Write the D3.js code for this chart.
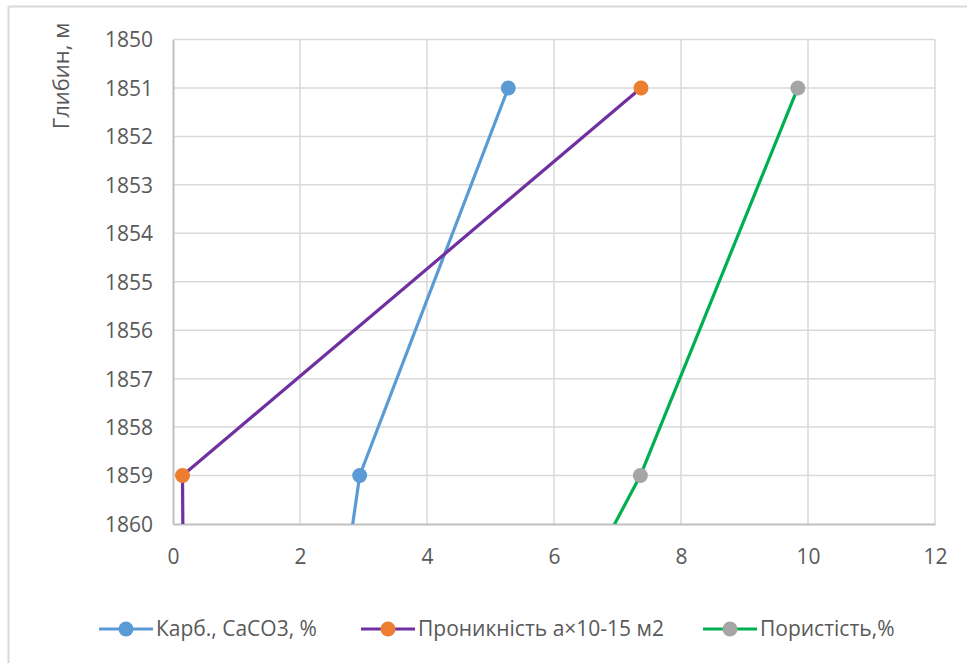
<!DOCTYPE html>
<html>
<head>
<meta charset="utf-8">
<script src="https://cdn.jsdelivr.net/npm/d3@7"></script>
<style>
  html, body { margin: 0; padding: 0; background: #fff; }
  svg { display: block; font-family: "Open Sans", "Noto Sans", sans-serif; }
</style>
</head>
<body>
<svg id="chart" width="967" height="663"></svg>
<script>
// Depths (m) of the measured points; the last one lies below the visible range
const depths = [1851, 1859, 1861];
// Series values
const carbonate = [5.28, 2.94, 2.72];      // Карб., CaCO3, %
const permeability = [7.37, 0.15, 0.16];   // Проникність a×10-15 м2
const porosity = [9.84, 7.36, 6.55];       // Пористість,%

const seriesNames = ["Карб., CaCO3, %", "Проникність а×10-15 м2", "Пористість,%"];
const lineColors = ["#5b9bd5", "#7030a0", "#00b050"];
const markerColors = ["#5b9bd5", "#ed7d31", "#a5a5a5"];

const xTicks = [0, 2, 4, 6, 8, 10, 12];
const yTicks = [1850, 1851, 1852, 1853, 1854, 1855, 1856, 1857, 1858, 1859, 1860];
const yTitle = "Глибин, м";

const svg = d3.select("#chart");
const W = 967, H = 663;
const plot = { left: 173, top: 39.5, right: 935, bottom: 524 };
const FS = "21px";

// outer chart frame (only top & left visible in the crop)
svg.append("line").attr("x1", 8.5).attr("x2", W).attr("y1", 6.5).attr("y2", 6.5)
  .attr("stroke", "#d9d9d9").attr("stroke-width", 2);
svg.append("line").attr("x1", 8.5).attr("x2", 8.5).attr("y1", 6.5).attr("y2", H)
  .attr("stroke", "#d9d9d9").attr("stroke-width", 2);

const x = d3.scaleLinear().domain([0, 12]).range([plot.left, plot.right]);
const y = d3.scaleLinear().domain([1850, 1860]).range([plot.top, plot.bottom]);

// gridlines
const grid = svg.append("g");
grid.selectAll("line.v").data(xTicks.filter(d => d > 0)).join("line")
  .attr("x1", d => x(d)).attr("x2", d => x(d))
  .attr("y1", plot.top).attr("y2", plot.bottom)
  .attr("stroke", "#d9d9d9").attr("stroke-width", 1.5);
grid.selectAll("line.h").data(yTicks.filter(d => d < 1860)).join("line")
  .attr("x1", plot.left).attr("x2", plot.right)
  .attr("y1", d => y(d)).attr("y2", d => y(d))
  .attr("stroke", "#d9d9d9").attr("stroke-width", 1.5);

// axes
const xAxis = svg.append("g").attr("transform", `translate(0,${plot.bottom})`)
  .call(d3.axisBottom(x).tickValues(xTicks).tickSize(0).tickPadding(33).tickFormat(d3.format("d")));
const yAxis = svg.append("g").attr("transform", `translate(${plot.left},0)`)
  .call(d3.axisLeft(y).tickValues(yTicks).tickSize(0).tickPadding(20).tickFormat(d3.format("d")));
[xAxis, yAxis].forEach(a => {
  a.select(".domain").attr("stroke", "#bfbfbf").attr("stroke-width", 2);
  a.selectAll("text").attr("fill", "#595959").style("font-size", FS)
    .style("font-family", '"Open Sans", sans-serif');
});
yAxis.selectAll("text").attr("dy", "0.35em");
xAxis.selectAll("text").attr("dy", "0.35em");

// y title
svg.append("text")
  .attr("transform", `translate(69,76) rotate(-90)`)
  .attr("text-anchor", "middle")
  .attr("fill", "#595959").style("font-size", "22px")
  .text(yTitle);

// clip
svg.append("clipPath").attr("id", "clip").append("rect")
  .attr("x", plot.left).attr("y", plot.top - 10)
  .attr("width", plot.right - plot.left + 10).attr("height", plot.bottom - plot.top + 10);

const allSeries = [carbonate, permeability, porosity];
const line = d3.line().x(d => x(d[0])).y(d => y(d[1]));
const g = svg.append("g").attr("clip-path", "url(#clip)");
allSeries.forEach((vals, i) => {
  const pts = vals.map((v, j) => [v, depths[j]]);
  g.append("path").datum(pts).attr("d", line)
    .attr("fill", "none").attr("stroke", lineColors[i]).attr("stroke-width", 3.2)
    .attr("stroke-linejoin", "round");
});
const clipMarkers = svg.append("g");
allSeries.forEach((vals, i) => {
  const pts = vals.map((v, j) => [v, depths[j]]).filter(p => p[1] <= 1860);
  clipMarkers.selectAll(null).data(pts).join("circle")
    .attr("cx", d => x(d[0])).attr("cy", d => y(d[1])).attr("r", 7.5)
    .attr("fill", markerColors[i]);
});

// legend
const legendY = 629;
const legendStarts = [99, 361, 703];
seriesNames.forEach((name, i) => {
  const lx = legendStarts[i];
  const lg = svg.append("g");
  lg.append("line").attr("x1", lx).attr("x2", lx + 54).attr("y1", legendY).attr("y2", legendY)
    .attr("stroke", lineColors[i]).attr("stroke-width", 3.2);
  lg.append("circle").attr("cx", lx + 27).attr("cy", legendY).attr("r", 7.5).attr("fill", markerColors[i]);
  lg.append("text").attr("x", lx + 57).attr("y", legendY).attr("dy", "0.35em")
    .attr("fill", "#595959").style("font-size", FS).text(name);
});
</script>
</body>
</html>
